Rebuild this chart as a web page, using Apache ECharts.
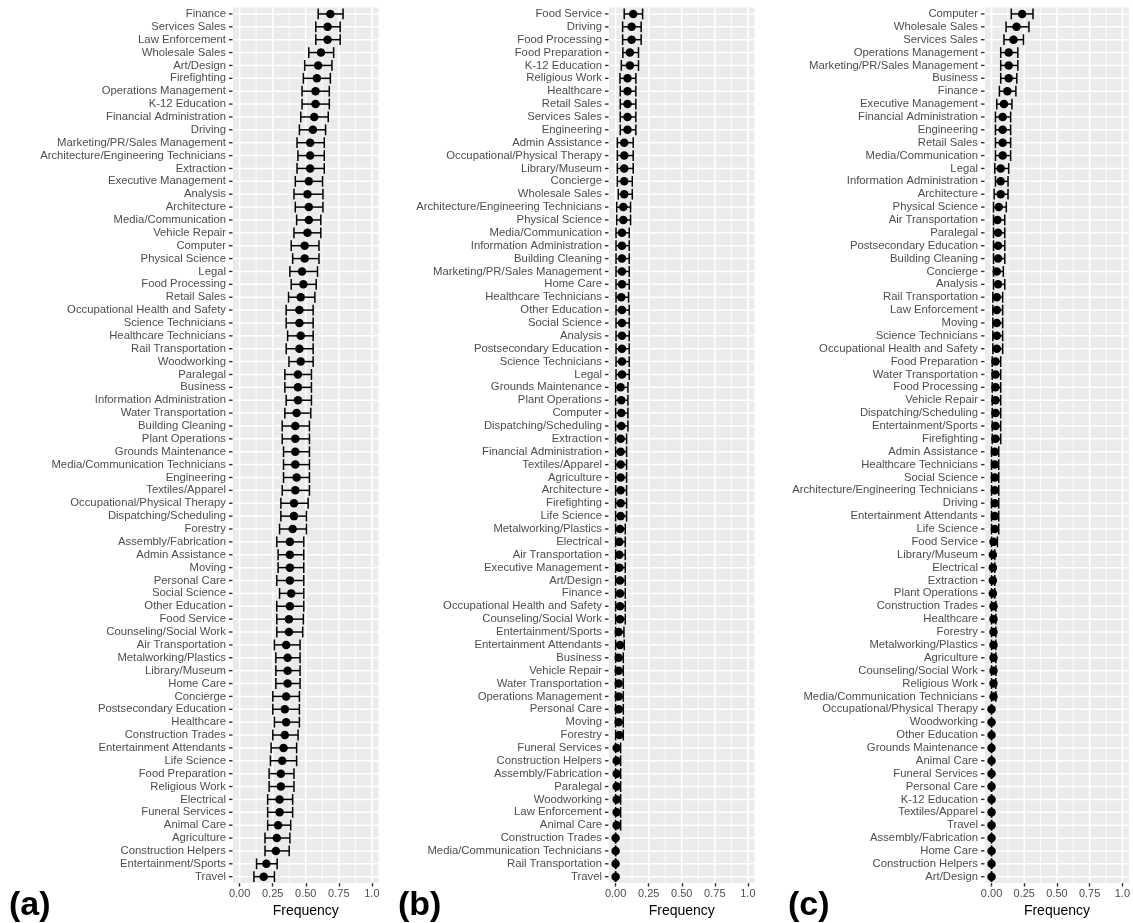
<!DOCTYPE html>
<html>
<head>
<meta charset="utf-8">
<script src="https://cdn.jsdelivr.net/npm/echarts@6/dist/echarts.min.js"></script>
<style>
  html, body { margin: 0; padding: 0; background: #fff; }
  #chart { width: 1133px; height: 923px; }
</style>
</head>
<body>
<div id="chart"></div>
<script>
// panel (a)
const namesA = ['Finance', 'Services Sales', 'Law Enforcement', 'Wholesale Sales', 'Art/Design', 'Firefighting', 'Operations Management', 'K-12 Education', 'Financial Administration', 'Driving', 'Marketing/PR/Sales Management', 'Architecture/Engineering Technicians', 'Extraction', 'Executive Management', 'Analysis', 'Architecture', 'Media/Communication', 'Vehicle Repair', 'Computer', 'Physical Science', 'Legal', 'Food Processing', 'Retail Sales', 'Occupational Health and Safety', 'Science Technicians', 'Healthcare Technicians', 'Rail Transportation', 'Woodworking', 'Paralegal', 'Business', 'Information Administration', 'Water Transportation', 'Building Cleaning', 'Plant Operations', 'Grounds Maintenance', 'Media/Communication Technicians', 'Engineering', 'Textiles/Apparel', 'Occupational/Physical Therapy', 'Dispatching/Scheduling', 'Forestry', 'Assembly/Fabrication', 'Admin Assistance', 'Moving', 'Personal Care', 'Social Science', 'Other Education', 'Food Service', 'Counseling/Social Work', 'Air Transportation', 'Metalworking/Plastics', 'Library/Museum', 'Home Care', 'Concierge', 'Postsecondary Education', 'Healthcare', 'Construction Trades', 'Entertainment Attendants', 'Life Science', 'Food Preparation', 'Religious Work', 'Electrical', 'Funeral Services', 'Animal Care', 'Agriculture', 'Construction Helpers', 'Entertainment/Sports', 'Travel'];
const valA = [0.686, 0.665, 0.665, 0.615, 0.594, 0.584, 0.574, 0.574, 0.564, 0.554, 0.533, 0.533, 0.533, 0.523, 0.513, 0.523, 0.523, 0.513, 0.492, 0.492, 0.472, 0.482, 0.462, 0.452, 0.452, 0.462, 0.452, 0.462, 0.441, 0.441, 0.441, 0.431, 0.421, 0.421, 0.421, 0.421, 0.431, 0.421, 0.411, 0.411, 0.401, 0.380, 0.380, 0.380, 0.380, 0.390, 0.380, 0.373, 0.373, 0.352, 0.363, 0.363, 0.363, 0.352, 0.342, 0.352, 0.342, 0.332, 0.322, 0.312, 0.312, 0.302, 0.302, 0.291, 0.281, 0.274, 0.202, 0.182];
const loA = [0.594, 0.576, 0.576, 0.523, 0.492, 0.482, 0.472, 0.472, 0.462, 0.452, 0.434, 0.441, 0.434, 0.421, 0.411, 0.421, 0.431, 0.411, 0.390, 0.401, 0.380, 0.390, 0.370, 0.352, 0.352, 0.363, 0.352, 0.373, 0.342, 0.342, 0.352, 0.342, 0.322, 0.322, 0.332, 0.332, 0.332, 0.322, 0.312, 0.312, 0.302, 0.281, 0.291, 0.291, 0.281, 0.302, 0.281, 0.281, 0.281, 0.263, 0.274, 0.274, 0.274, 0.251, 0.251, 0.263, 0.251, 0.238, 0.233, 0.223, 0.223, 0.212, 0.212, 0.212, 0.192, 0.192, 0.128, 0.108];
const hiA = [0.782, 0.760, 0.760, 0.711, 0.698, 0.686, 0.678, 0.678, 0.670, 0.650, 0.640, 0.640, 0.640, 0.627, 0.630, 0.630, 0.614, 0.614, 0.600, 0.600, 0.589, 0.579, 0.569, 0.556, 0.556, 0.556, 0.556, 0.556, 0.543, 0.543, 0.543, 0.538, 0.528, 0.528, 0.528, 0.528, 0.528, 0.528, 0.518, 0.505, 0.505, 0.485, 0.485, 0.485, 0.485, 0.485, 0.485, 0.482, 0.477, 0.457, 0.457, 0.457, 0.457, 0.452, 0.452, 0.452, 0.442, 0.431, 0.431, 0.411, 0.411, 0.401, 0.401, 0.386, 0.380, 0.375, 0.284, 0.263];

// panel (b)
const namesB = ['Food Service', 'Driving', 'Food Processing', 'Food Preparation', 'K-12 Education', 'Religious Work', 'Healthcare', 'Retail Sales', 'Services Sales', 'Engineering', 'Admin Assistance', 'Occupational/Physical Therapy', 'Library/Museum', 'Concierge', 'Wholesale Sales', 'Architecture/Engineering Technicians', 'Physical Science', 'Media/Communication', 'Information Administration', 'Building Cleaning', 'Marketing/PR/Sales Management', 'Home Care', 'Healthcare Technicians', 'Other Education', 'Social Science', 'Analysis', 'Postsecondary Education', 'Science Technicians', 'Legal', 'Grounds Maintenance', 'Plant Operations', 'Computer', 'Dispatching/Scheduling', 'Extraction', 'Financial Administration', 'Textiles/Apparel', 'Agriculture', 'Architecture', 'Firefighting', 'Life Science', 'Metalworking/Plastics', 'Electrical', 'Air Transportation', 'Executive Management', 'Art/Design', 'Finance', 'Occupational Health and Safety', 'Counseling/Social Work', 'Entertainment/Sports', 'Entertainment Attendants', 'Business', 'Vehicle Repair', 'Water Transportation', 'Operations Management', 'Personal Care', 'Moving', 'Forestry', 'Funeral Services', 'Construction Helpers', 'Assembly/Fabrication', 'Paralegal', 'Woodworking', 'Law Enforcement', 'Animal Care', 'Construction Trades', 'Media/Communication Technicians', 'Rail Transportation', 'Travel'];
const valB = [0.133, 0.121, 0.121, 0.108, 0.108, 0.090, 0.090, 0.090, 0.090, 0.090, 0.065, 0.065, 0.065, 0.065, 0.065, 0.058, 0.058, 0.048, 0.048, 0.048, 0.048, 0.048, 0.043, 0.048, 0.048, 0.048, 0.048, 0.048, 0.048, 0.038, 0.043, 0.043, 0.043, 0.038, 0.038, 0.038, 0.038, 0.038, 0.038, 0.038, 0.033, 0.028, 0.028, 0.028, 0.033, 0.033, 0.033, 0.033, 0.023, 0.033, 0.023, 0.023, 0.023, 0.023, 0.023, 0.023, 0.028, 0.008, 0.008, 0.008, 0.008, 0.008, 0.008, 0.008, 0, 0, 0, 0];
const loB = [0.065, 0.053, 0.053, 0.055, 0.043, 0.033, 0.035, 0.035, 0.035, 0.035, 0.013, 0.013, 0.013, 0.013, 0.020, 0.008, 0.008, 0.003, 0.003, 0.003, 0.003, 0.003, 0.003, 0.003, 0.003, 0.003, 0.003, 0.003, 0.003, 0, 0, 0, 0, 0, 0, 0, 0, 0, 0, 0, 0, 0, 0, 0, 0, 0, 0, 0, 0, 0, 0, 0, 0, 0, 0, 0, 0, 0, 0, 0, 0, 0, 0, 0, 0, 0, 0, 0];
const hiB = [0.204, 0.193, 0.193, 0.173, 0.173, 0.153, 0.153, 0.153, 0.153, 0.153, 0.133, 0.133, 0.133, 0.126, 0.126, 0.113, 0.113, 0.103, 0.103, 0.103, 0.103, 0.103, 0.098, 0.103, 0.103, 0.103, 0.103, 0.103, 0.103, 0.093, 0.093, 0.093, 0.093, 0.083, 0.083, 0.083, 0.083, 0.083, 0.083, 0.083, 0.073, 0.073, 0.073, 0.073, 0.073, 0.073, 0.073, 0.073, 0.063, 0.065, 0.058, 0.058, 0.058, 0.058, 0.058, 0.058, 0.058, 0.038, 0.038, 0.038, 0.038, 0.038, 0.038, 0.038, 0, 0, 0, 0];

// panel (c)
const namesC = ['Computer', 'Wholesale Sales', 'Services Sales', 'Operations Management', 'Marketing/PR/Sales Management', 'Business', 'Finance', 'Executive Management', 'Financial Administration', 'Engineering', 'Retail Sales', 'Media/Communication', 'Legal', 'Information Administration', 'Architecture', 'Physical Science', 'Air Transportation', 'Paralegal', 'Postsecondary Education', 'Building Cleaning', 'Concierge', 'Analysis', 'Rail Transportation', 'Law Enforcement', 'Moving', 'Science Technicians', 'Occupational Health and Safety', 'Food Preparation', 'Water Transportation', 'Food Processing', 'Vehicle Repair', 'Dispatching/Scheduling', 'Entertainment/Sports', 'Firefighting', 'Admin Assistance', 'Healthcare Technicians', 'Social Science', 'Architecture/Engineering Technicians', 'Driving', 'Entertainment Attendants', 'Life Science', 'Food Service', 'Library/Museum', 'Electrical', 'Extraction', 'Plant Operations', 'Construction Trades', 'Healthcare', 'Forestry', 'Metalworking/Plastics', 'Agriculture', 'Counseling/Social Work', 'Religious Work', 'Media/Communication Technicians', 'Occupational/Physical Therapy', 'Woodworking', 'Other Education', 'Grounds Maintenance', 'Animal Care', 'Funeral Services', 'Personal Care', 'K-12 Education', 'Textiles/Apparel', 'Travel', 'Assembly/Fabrication', 'Home Care', 'Construction Helpers', 'Art/Design'];
const valC = [0.234, 0.191, 0.168, 0.131, 0.131, 0.131, 0.121, 0.095, 0.085, 0.085, 0.085, 0.085, 0.070, 0.070, 0.070, 0.055, 0.045, 0.050, 0.050, 0.050, 0.040, 0.050, 0.040, 0.040, 0.040, 0.040, 0.040, 0.030, 0.030, 0.030, 0.030, 0.030, 0.030, 0.030, 0.025, 0.025, 0.025, 0.025, 0.025, 0.025, 0.025, 0.015, 0.010, 0.010, 0.010, 0.010, 0.015, 0.015, 0.015, 0.015, 0.015, 0.015, 0.015, 0.015, 0, 0, 0, 0, 0, 0, 0, 0, 0, 0, 0, 0, 0, 0];
const loC = [0.151, 0.111, 0.095, 0.070, 0.070, 0.070, 0.060, 0.040, 0.030, 0.030, 0.030, 0.030, 0.025, 0.030, 0.020, 0.015, 0.015, 0.015, 0.015, 0.015, 0.015, 0.015, 0.010, 0.010, 0.010, 0.010, 0.010, 0.005, 0.005, 0.005, 0.005, 0.005, 0.005, 0.005, 0, 0, 0, 0, 0, 0, 0, 0, 0, 0, 0, 0, 0, 0, 0, 0, 0, 0, 0, 0, 0, 0, 0, 0, 0, 0, 0, 0, 0, 0, 0, 0, 0, 0];
const hiC = [0.317, 0.286, 0.244, 0.201, 0.201, 0.193, 0.186, 0.156, 0.146, 0.146, 0.146, 0.146, 0.131, 0.126, 0.126, 0.113, 0.101, 0.101, 0.101, 0.101, 0.090, 0.101, 0.085, 0.085, 0.085, 0.085, 0.085, 0.070, 0.070, 0.070, 0.070, 0.070, 0.070, 0.070, 0.055, 0.055, 0.055, 0.055, 0.055, 0.055, 0.055, 0.045, 0.025, 0.025, 0.025, 0.025, 0.033, 0.033, 0.033, 0.033, 0.033, 0.033, 0.033, 0.033, 0, 0, 0, 0, 0, 0, 0, 0, 0, 0, 0, 0, 0, 0];

const xTicks = [0, 0.25, 0.5, 0.75, 1];
const xTickLabels = ['0.00', '0.25', '0.50', '0.75', '1.0'];
const xMinor = [0.125, 0.375, 0.625, 0.875];
const panelTags = ['(a)', '(b)', '(c)'];

const chart = echarts.init(document.getElementById('chart'));
const FONT = 'Liberation Sans, Arial, Helvetica, sans-serif';

const panels = [
  { names: namesA, val: valA, lo: loA, hi: hiA, left: 233, tagX: 9 },
  { names: namesB, val: valB, lo: loB, hi: hiB, left: 609, tagX: 398 },
  { names: namesC, val: valC, lo: loC, hi: hiC, left: 985, tagX: 788 },
];

// vertical grid lines (major + minor), spanning the whole panel
function renderVGrid(params, api) {
  const cs = params.coordSys;
  const x = api.coord([api.value(0), 0])[0];
  return {
    type: 'line',
    shape: { x1: x, y1: cs.y, x2: x, y2: cs.y + cs.height },
    style: { stroke: '#fff', lineWidth: api.value(1) },
    silent: true,
  };
}

// horizontal grid line at each category, plus the little tick mark left of the panel
function renderHGrid(params, api) {
  const cs = params.coordSys;
  const y = api.coord([0, api.value(0)])[1];
  return {
    type: 'group',
    children: [
      { type: 'line', shape: { x1: cs.x, y1: y, x2: cs.x + cs.width, y2: y }, style: { stroke: '#fff', lineWidth: 1.5 } },
      { type: 'line', shape: { x1: cs.x - 4, y1: y, x2: cs.x - 0.5, y2: y }, style: { stroke: '#333', lineWidth: 1.4 } },
    ],
    silent: true,
  };
}

function renderErr(params, api) {
  const y = api.value(2);
  const p1 = api.coord([api.value(0), y]);
  const p2 = api.coord([api.value(1), y]);
  const h = api.size([0, 1])[1] * 0.42;
  const style = { stroke: '#000', lineWidth: 1.5 };
  return {
    type: 'group',
    children: [
      { type: 'line', shape: { x1: p1[0], y1: p1[1], x2: p2[0], y2: p2[1] }, style },
      { type: 'line', shape: { x1: p1[0], y1: p1[1] - h, x2: p1[0], y2: p1[1] + h }, style },
      { type: 'line', shape: { x1: p2[0], y1: p2[1] - h, x2: p2[0], y2: p2[1] + h }, style },
    ],
  };
}

const grid = [], xAxis = [], yAxis = [], series = [], graphic = [];
panels.forEach((p, i) => {
  grid.push({
    left: p.left, top: 7.5, width: 145.5, height: 877.6,
    show: true, backgroundColor: '#EBEBEB', borderWidth: 0,
  });
  xAxis.push({
    gridIndex: i, type: 'value', min: -0.05, max: 1.05,
    axisLine: { show: false },
    axisTick: { show: true, customValues: xTicks, length: 3.5, lineStyle: { color: '#333', width: 1.4 } },
    axisLabel: {
      customValues: xTicks, color: '#4D4D4D', fontSize: 11, fontFamily: FONT, margin: 5,
      formatter: (v) => xTickLabels[xTicks.indexOf(v)] ?? '',
    },
    splitLine: { show: false },
    name: 'Frequency', nameLocation: 'middle', nameGap: 20,
    nameTextStyle: { color: '#000', fontSize: 14, fontFamily: FONT },
  });
  yAxis.push({
    gridIndex: i, type: 'category', data: p.names, inverse: true,
    axisLine: { show: false },
    axisTick: { show: false },
    axisLabel: { interval: 0, color: '#4D4D4D', fontSize: 11.3, fontFamily: FONT, margin: 7 },
    splitLine: { show: false },
  });
  series.push({
    type: 'custom', xAxisIndex: i, yAxisIndex: i, z: 1, silent: true, clip: false,
    renderItem: renderVGrid,
    data: xTicks.map((v) => [v, 1.6]).concat(xMinor.map((v) => [v, 0.8])),
    encode: { x: 0 },
  });
  series.push({
    type: 'custom', xAxisIndex: i, yAxisIndex: i, z: 1, silent: true, clip: false,
    renderItem: renderHGrid,
    data: p.names.map((n, k) => [k]),
    encode: { y: 0 },
  });
  series.push({
    type: 'custom', xAxisIndex: i, yAxisIndex: i, z: 2,
    renderItem: renderErr,
    data: p.names.map((n, k) => [p.lo[k], p.hi[k], k]),
    encode: { x: [0, 1], y: 2 },
  });
  series.push({
    type: 'scatter', xAxisIndex: i, yAxisIndex: i, z: 3,
    symbol: 'circle', symbolSize: 8.5,
    itemStyle: { color: '#000', opacity: 1 },
    data: p.names.map((n, k) => [p.val[k], k]),
  });
  graphic.push({
    type: 'text', x: p.tagX, y: 906,
    style: {
      text: panelTags[i], fill: '#000',
      font: 'bold 34px ' + FONT, align: 'left', verticalAlign: 'middle',
    },
  });
});

chart.setOption({
  animation: false,
  backgroundColor: '#fff',
  grid, xAxis, yAxis, series, graphic,
});
</script>
</body>
</html>
